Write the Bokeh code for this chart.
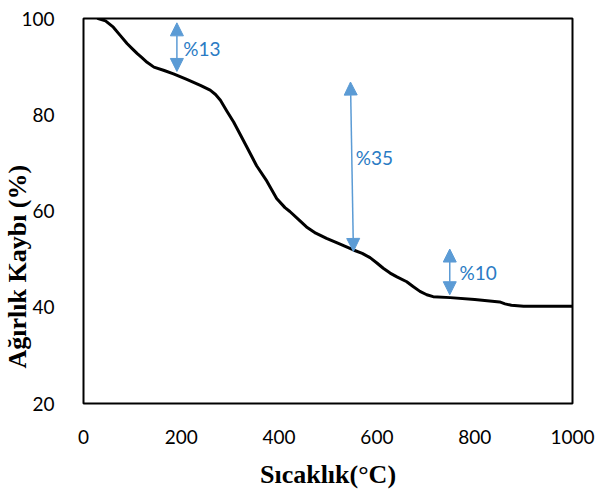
from bokeh.plotting import figure
from bokeh.models import FixedTicker, Title, Arrow, NormalHead, Range1d
from bokeh.core.properties import value
from bokeh.embed import file_html
from bokeh.resources import INLINE

# ---- data ----
temp = [30, 45, 61, 75, 89, 100, 110, 120, 130, 144, 165, 184, 210, 239, 259,
        270, 280, 293, 307, 320, 334, 354, 375, 395, 412, 422, 440, 456, 475, 497,
        520, 552, 570, 586, 600, 613, 627, 641, 661, 674, 688, 702, 715, 750, 800,
        851, 862, 875, 900, 950, 1000]
weight = [100, 99.5, 98.2, 96.5, 94.8, 93.7, 92.7, 91.8, 90.9, 89.9, 89.2, 88.5, 87.4, 86.1, 85.1,
          84.2, 83.0, 80.8, 78.5, 76.0, 73.3, 69.4, 66.2, 62.6, 60.7, 59.9, 58.2, 56.7, 55.4, 54.3,
          53.3, 51.9, 51.2, 50.3, 49.2, 48.1, 47.1, 46.3, 45.3, 44.3, 43.3, 42.6, 42.2, 42.0, 41.6,
          41.1, 40.7, 40.4, 40.2, 40.2, 40.2]

x_ticks = [0, 200, 400, 600, 800, 1000]
y_ticks = [20, 40, 60, 80, 100]

# mass-loss annotations: arrow x (start/end), arrow y (start/end), label text and anchor
arrow_x0 = [191, 546, 749]
arrow_y0 = [99.1, 86.8, 52.1]
arrow_x1 = [191, 552, 749]
arrow_y1 = [89.0, 51.6, 42.6]
ann_text = ["%13", "%35", "%10"]
ann_x = [204, 557, 769]
ann_y = [93.8, 71.2, 47.2]

x_title = "Sıcaklık(°C)"
y_title = "Ağırlık Kaybı (%)"

# ---- figure ----
p = figure(frame_width=489, frame_height=385,
           min_border_left=83, min_border_right=26, min_border_top=18, min_border_bottom=90,
           x_range=Range1d(0, 1000), y_range=Range1d(20, 100),
           output_backend="svg", toolbar_location=None)
p.background_fill_color = "white"
p.border_fill_color = "white"
p.grid.visible = False
p.outline_line_color = "black"
p.outline_line_width = 2
p.outline_line_alpha = 1.0

for ax in (p.xaxis[0], p.yaxis[0]):
    ax.axis_line_color = None
    ax.major_tick_line_color = None
    ax.minor_tick_line_color = None
    ax.major_label_text_font = "Lato"
    ax.major_label_text_font_size = "19px"
    ax.major_label_text_color = "black"

p.xaxis[0].ticker = FixedTicker(ticks=x_ticks)
p.yaxis[0].ticker = FixedTicker(ticks=y_ticks)
p.xaxis[0].major_label_standoff = 20
p.yaxis[0].major_label_standoff = 23

p.xaxis[0].axis_label = x_title
p.xaxis[0].axis_label_text_font = "Liberation Serif"
p.xaxis[0].axis_label_text_font_style = "bold"
p.xaxis[0].axis_label_text_font_size = "26px"
p.xaxis[0].axis_label_text_color = "black"
p.xaxis[0].axis_label_standoff = 13

ytitle = Title(text=y_title, align="left", offset=35,
               text_font="Liberation Serif", text_font_style="bold", text_font_size="26px",
               text_color="black", standoff=-26)
p.add_layout(ytitle, "left")

p.line(temp, weight, line_color="black", line_width=3, line_join="round", line_cap="round")

arrow_color = "#5B9BD5"
for x0, y0, x1, y1 in zip(arrow_x0, arrow_y0, arrow_x1, arrow_y1):
    p.add_layout(Arrow(x_start=x0, y_start=y0, x_end=x1, y_end=y1,
                       line_color=arrow_color, line_width=1.5,
                       start=NormalHead(size=13, fill_color=arrow_color, line_color=arrow_color),
                       end=NormalHead(size=13, fill_color=arrow_color, line_color=arrow_color)))

p.text(x=ann_x, y=ann_y, text=ann_text, text_font=value("Lato"), text_font_size="19px",
       text_color="#2A7BC4", text_align="left", text_baseline="middle")

open("out.html", "w").write(file_html(p, INLINE))
